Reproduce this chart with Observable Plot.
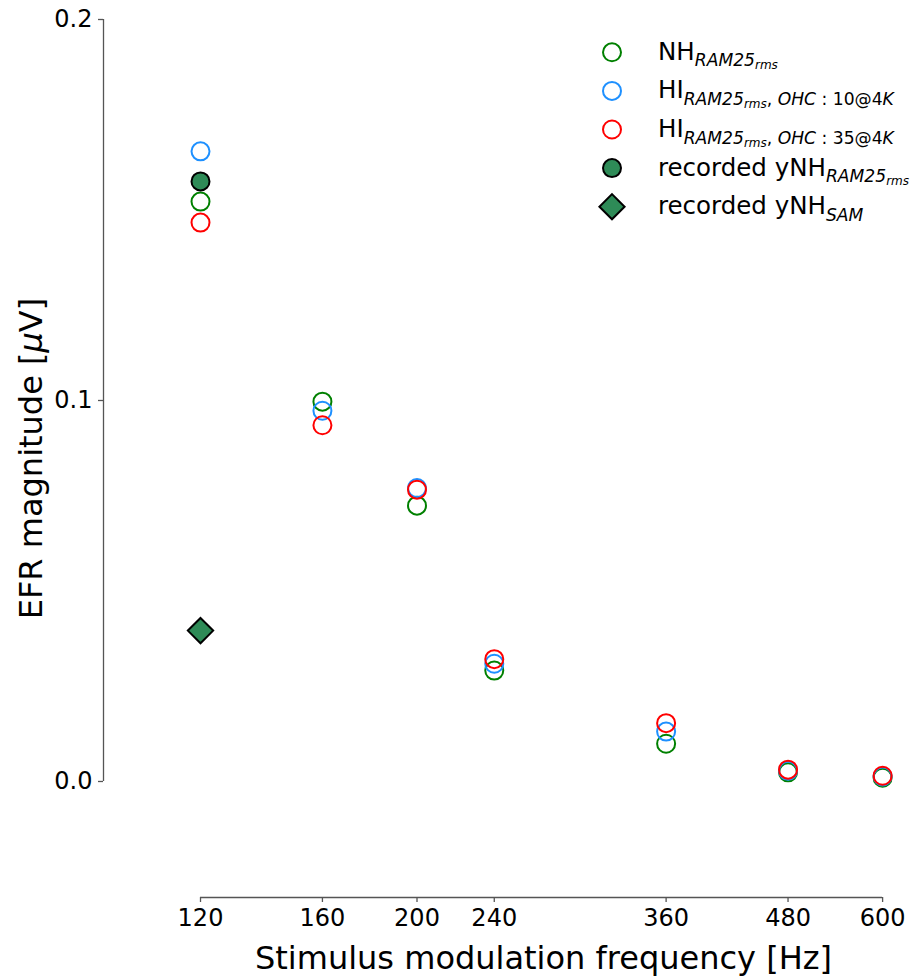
<!DOCTYPE html>
<html>
<head>
<meta charset="utf-8">
<script src="https://cdn.jsdelivr.net/npm/d3@7"></script>
<script src="https://cdn.jsdelivr.net/npm/@observablehq/plot@0.6"></script>
<style>
  html, body { margin: 0; padding: 0; background: white; }
  #chart { position: relative; width: 919px; height: 980px; }
</style>
</head>
<body>
<div id="chart"></div>
<script>
// ---- data ----
const freqs = [120, 160, 200, 240, 360, 480, 600];
const nhRam = [0.1522, 0.0997, 0.0724, 0.0291, 0.0099, 0.0024, 0.0010];
const hi10Ram = [0.1654, 0.0973, 0.0770, 0.0309, 0.0131, 0.0028, 0.0013];
const hi35Ram = [0.1467, 0.0935, 0.0766, 0.0321, 0.0153, 0.0031, 0.0015];
const recordedFreqs = [120];
const recordedRam = [0.1575];
const recordedSam = [0.0396];
const yTicks = [0, 0.1, 0.2];
const xTicks = [120, 160, 200, 240, 360, 480, 600];
const xLabel = "Stimulus modulation frequency [Hz]";
const yLabel = "EFR magnitude [μV]";

const xDomain = [95.45, 624.4];
const yDomain = [-0.03045, 0.2];

const toRows = (xs, ys) => xs.map((f, i) => ({f, v: ys[i]}));

const font = "DejaVu Sans";
const axisGray = "#555";

const plot = Plot.plot({
  width: 919,
  height: 980,
  marginLeft: 103,
  marginRight: 20,
  marginTop: 19,
  marginBottom: 83,
  style: {fontFamily: font, background: "white", color: "black"},
  x: {type: "log", domain: xDomain},
  y: {domain: yDomain},
  marks: [
    // trimmed spines
    Plot.ruleX([xDomain[0]], {y1: yTicks[0], y2: yTicks[yTicks.length - 1], stroke: axisGray, strokeWidth: 1.3}),
    Plot.ruleY([yDomain[0]], {x1: xTicks[0], x2: xTicks[xTicks.length - 1], stroke: axisGray, strokeWidth: 1.3}),
    Plot.axisY(yTicks, {tickSize: 5, tickPadding: 6, fontSize: 24, tickFormat: d => d.toFixed(1), label: null, stroke: axisGray, fill: "black", strokeWidth: 1.3}),
    Plot.axisX(xTicks, {tickSize: 5, tickPadding: 6, fontSize: 24, tickFormat: d3.format("d"), label: null, stroke: axisGray, fill: "black", strokeWidth: 1.3}),
    Plot.text([xLabel], {frameAnchor: "bottom", textAnchor: "middle", dx: 42, dy: 71, lineAnchor: "bottom", fontSize: 32, fill: "black", text: d => d}),
    Plot.text([yLabel], {frameAnchor: "left", textAnchor: "middle", dx: -62, rotate: -90, lineAnchor: "bottom", fontSize: 32, fill: "black", text: d => d}),
    // simulated series
    Plot.dot(toRows(freqs, nhRam), {x: "f", y: "v", r: 9, stroke: "green", strokeWidth: 2, fill: "none"}),
    Plot.dot(toRows(freqs, hi10Ram), {x: "f", y: "v", r: 9, stroke: "dodgerblue", strokeWidth: 2, fill: "none"}),
    Plot.dot(toRows(freqs, hi35Ram), {x: "f", y: "v", r: 9, stroke: "red", strokeWidth: 2, fill: "none"}),
    // recorded
    Plot.dot(toRows(recordedFreqs, recordedRam), {x: "f", y: "v", r: 9, stroke: "black", strokeWidth: 2, fill: "seagreen"}),
    Plot.dot(toRows(recordedFreqs, recordedSam), {x: "f", y: "v", r: 11.4, symbol: "diamond2", stroke: "black", strokeWidth: 2, fill: "seagreen"})
  ]
});

document.getElementById("chart").appendChild(plot);

// italic mu in y label
const svg = d3.select(plot);
svg.selectAll("text").filter(function() { return this.textContent === yLabel; }).each(function() {
  const t = d3.select(this);
  t.text(null);
  t.append("tspan").text("EFR magnitude [");
  t.append("tspan").attr("font-style", "italic").text("μ");
  t.append("tspan").text("V]");
});

// ---- legend ----
const legendRows = [
  {symbol: "circle", stroke: "green", fill: "none",
   parts: [["NH", 0], ["RAM25", 1, 1], ["rms", 2, 1]]},
  {symbol: "circle", stroke: "dodgerblue", fill: "none",
   parts: [["HI", 0], ["RAM25", 1, 1], ["rms", 2, 1], [", ", 1], ["OHC", 1, 1], [" : ", 1], ["10@4", 1], ["K", 1, 1]]},
  {symbol: "circle", stroke: "red", fill: "none",
   parts: [["HI", 0], ["RAM25", 1, 1], ["rms", 2, 1], [", ", 1], ["OHC", 1, 1], [" : ", 1], ["35@4", 1], ["K", 1, 1]]},
  {symbol: "circle", stroke: "black", fill: "seagreen",
   parts: [["recorded yNH", 0], ["RAM25", 1, 1], ["rms", 2, 1]]},
  {symbol: "diamond", stroke: "black", fill: "seagreen",
   parts: [["recorded yNH", 0], ["SAM", 1, 1]]}
];
const levelSize = [24.5, 17.15, 12];
const levelShift = [0, 6.5, 9.5];
const lg = svg.append("g").attr("font-family", font).attr("text-anchor", "start");
legendRows.forEach((row, i) => {
  const cy = 52.3 + i * 38.6;
  if (row.symbol === "circle") {
    lg.append("circle").attr("cx", 612).attr("cy", cy).attr("r", 9)
      .attr("fill", row.fill).attr("stroke", row.stroke).attr("stroke-width", 2);
  } else {
    const h = 12.6;
    lg.append("path").attr("d", `M612,${cy - h}L${612 + h},${cy}L612,${cy + h}L${612 - h},${cy}Z`)
      .attr("fill", row.fill).attr("stroke", row.stroke).attr("stroke-width", 2);
  }
  const base = cy + 7.5;
  const t = lg.append("text").attr("x", 658).attr("y", base).attr("fill", "black")
    .attr("text-anchor", "start").style("white-space", "pre");
  row.parts.forEach(([s, lvl, it]) => {
    t.append("tspan").attr("y", base + levelShift[lvl]).attr("font-size", levelSize[lvl])
      .attr("text-anchor", "start")
      .attr("font-style", it ? "italic" : "normal").text(s);
  });
});
</script>
</body>
</html>
